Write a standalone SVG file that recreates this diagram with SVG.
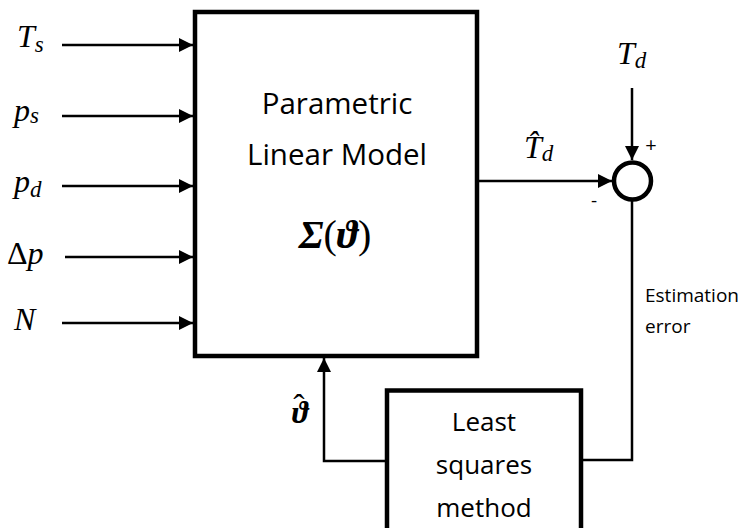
<svg xmlns="http://www.w3.org/2000/svg" width="743" height="528" viewBox="0 0 743 528">
<style>
.box{fill:#fff;stroke:#000;stroke-width:4.5}
.ln{fill:none;stroke:#000;stroke-width:2.5}
.lbl{font-family:"Open Sans","Noto Sans",sans-serif;fill:#000}
.math{font-family:"Liberation Serif","DejaVu Serif",serif;font-style:italic;fill:#000}
.bm{font-weight:bold}
</style>
<defs>
<marker id="ah" viewBox="0 0 14 14" refX="14" refY="7" markerWidth="14" markerHeight="14" markerUnits="userSpaceOnUse" orient="auto">
<path d="M0,0 L14,7 L0,14 Z" fill="#000"/>
</marker>
</defs>
<g id="connectors">
<line class="ln" x1="62" y1="45" x2="193" y2="45" marker-end="url(#ah)"/>
<line class="ln" x1="62" y1="116" x2="193" y2="116" marker-end="url(#ah)"/>
<line class="ln" x1="62" y1="186" x2="193" y2="186" marker-end="url(#ah)"/>
<line class="ln" x1="65" y1="257" x2="193" y2="257" marker-end="url(#ah)"/>
<line class="ln" x1="62" y1="323" x2="193" y2="323" marker-end="url(#ah)"/>
<line class="ln" x1="478" y1="181" x2="612" y2="181" marker-end="url(#ah)"/>
<line class="ln" x1="632" y1="88" x2="632" y2="160" marker-end="url(#ah)"/>
<polyline class="ln" points="632,201 632,460 582,460"/>
<polyline class="ln" points="386,461 324,461 324,358" marker-end="url(#ah)"/>
</g>
<g id="model">
<rect class="box" x="195" y="12" width="282" height="344"/>
<text class="lbl" x="337" y="114" font-size="29.5" text-anchor="middle">Parametric</text>
<text class="lbl" x="337" y="165" font-size="29.5" text-anchor="middle">Linear Model</text>
<text class="math" x="335" y="248" font-size="40" text-anchor="middle"><tspan class="bm">Σ</tspan><tspan font-style="normal">(</tspan><tspan class="bm">ϑ</tspan><tspan font-style="normal">)</tspan></text>
</g>
<g id="sum">
<circle cx="632.5" cy="181" r="18.5" fill="#fff" stroke="#000" stroke-width="4.5"/>
<text class="lbl" x="651" y="152" font-size="20" text-anchor="middle">+</text>
<text class="lbl" x="594" y="207" font-size="19" text-anchor="middle">-</text>
</g>
<g id="lsm">
<rect class="box" x="387" y="390.5" width="194" height="160"/>
<text class="lbl" x="484" y="431" font-size="26" text-anchor="middle">Least</text>
<text class="lbl" x="484" y="474" font-size="26" text-anchor="middle">squares</text>
<text class="lbl" x="484" y="517" font-size="26" text-anchor="middle">method</text>
</g>
<g id="labels">
<text class="math" x="17" y="47" font-size="32">T<tspan font-size="23" dy="5">s</tspan></text>
<text class="math" x="14" y="121" font-size="32">p<tspan font-size="23" dy="2">s</tspan></text>
<text class="math" x="14" y="192" font-size="32">p<tspan font-size="23" dy="5">d</tspan></text>
<text class="math" x="7" y="264" font-size="32"><tspan font-style="normal">Δ</tspan>p</text>
<text class="math" x="14" y="330" font-size="32">N</text>
<text class="math" x="617" y="64" font-size="32">T<tspan font-size="23" dy="4">d</tspan></text>
<text class="math" x="524" y="158" font-size="32">T̂<tspan font-size="23" dy="3">d</tspan></text>
<text class="math bm" x="292" y="423" font-size="31">ϑ<tspan font-style="normal" font-weight="normal" font-size="34" dx="-15" dy="-5">ˆ</tspan></text>
<text class="lbl" x="645" y="302" font-size="19">Estimation</text>
<text class="lbl" x="645" y="333" font-size="19">error</text>
</g>
</svg>
